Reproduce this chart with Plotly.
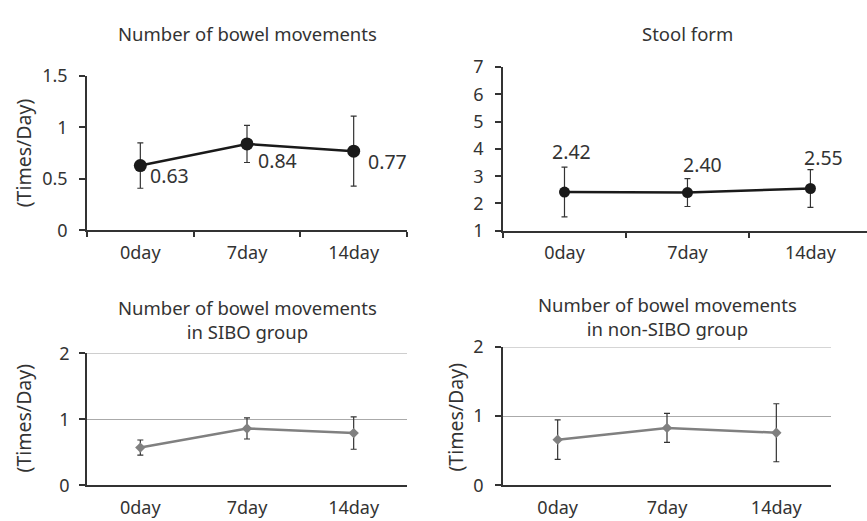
import plotly.graph_objects as go

days = ["0day", "7day", "14day"]

bm_mean = [0.63, 0.84, 0.77]
bm_err = [0.22, 0.18, 0.34]
bm_labels = ["0.63", "0.84", "0.77"]

sf_mean = [2.42, 2.40, 2.55]
sf_err = [0.91, 0.51, 0.69]
sf_labels = ["2.42", "2.40", "2.55"]

sibo_mean = [0.57, 0.86, 0.79]
sibo_err = [0.115, 0.16, 0.245]

nonsibo_mean = [0.66, 0.83, 0.76]
nonsibo_err = [0.285, 0.21, 0.42]

FONT = "Noto Sans"
TXT = "#333333"
W, H = 867, 521

def fx(px):
    return px / W

def fy(px):
    return 1 - px / H

fig = go.Figure()

# Panel 1
fig.add_trace(go.Scatter(
    x=days, y=bm_mean, xaxis="x", yaxis="y", mode="lines+markers",
    line=dict(color="#1a1a1a", width=2.5),
    marker=dict(color="#1a1a1a", size=13, symbol="circle"),
    error_y=dict(type="data", array=bm_err, color="#333333", thickness=1.2, width=3),
    showlegend=False, cliponaxis=False))
# Panel 2
fig.add_trace(go.Scatter(
    x=days, y=sf_mean, xaxis="x2", yaxis="y2", mode="lines+markers",
    line=dict(color="#1a1a1a", width=2.5),
    marker=dict(color="#1a1a1a", size=11, symbol="circle"),
    error_y=dict(type="data", array=sf_err, color="#333333", thickness=1.2, width=3),
    showlegend=False, cliponaxis=False))
# Panel 3
fig.add_trace(go.Scatter(
    x=days, y=sibo_mean, xaxis="x3", yaxis="y3", mode="lines+markers",
    line=dict(color="#808080", width=2.5),
    marker=dict(color="#808080", size=8, symbol="diamond"),
    error_y=dict(type="data", array=sibo_err, color="#333333", thickness=1.2, width=3),
    showlegend=False, cliponaxis=False))
# Panel 4
fig.add_trace(go.Scatter(
    x=days, y=nonsibo_mean, xaxis="x4", yaxis="y4", mode="lines+markers",
    line=dict(color="#808080", width=2.5),
    marker=dict(color="#808080", size=8, symbol="diamond"),
    error_y=dict(type="data", array=nonsibo_err, color="#333333", thickness=1.2, width=3),
    showlegend=False, cliponaxis=False))

axis_common = dict(showline=True, linecolor="#333333", linewidth=1.5,
                   tickfont=dict(family=FONT, size=18, color=TXT),
                   zeroline=False, fixedrange=True)

def xaxis(domain, anchor, rng, ticks, standoff):
    return dict(axis_common, domain=domain, anchor=anchor, type="category",
                categoryorder="array", categoryarray=days, range=rng,
                tickson="boundaries", ticks=ticks, ticklen=5, tickcolor="#333333",
                tickwidth=1.5, showgrid=False, ticklabelstandoff=standoff)

def yaxis(domain, anchor, rng, tickvals, grid, standoff):
    return dict(axis_common, domain=domain, anchor=anchor, range=rng,
                tickvals=tickvals, ticks="outside", ticklen=6, tickcolor="#333333",
                tickwidth=1.5, showgrid=grid, gridcolor="#aaaaaa", gridwidth=1,
                ticklabelstandoff=standoff)

fig.update_layout(
    width=W, height=H, margin=dict(l=0, r=0, t=0, b=0),
    paper_bgcolor="white", plot_bgcolor="white",
    font=dict(family=FONT, size=18, color=TXT),
    xaxis=xaxis([fx(87), fx(407)], "y", [-0.5, 2.5], "outside", 5),
    yaxis=yaxis([fy(228), fy(66)], "x", [0, 1.5], [0, 0.5, 1, 1.5], False, 8),
    xaxis2=xaxis([fx(503), 1.0], "y2", [-0.5, 2.46], "outside", 5),
    yaxis2=yaxis([fy(228.3), fy(56.7)], "x2", [1, 7], [1, 2, 3, 4, 5, 6, 7], False, 8),
    xaxis3=xaxis([fx(87), fx(407)], "y3", [-0.5, 2.5], "", 5),
    yaxis3=yaxis([fy(495), fy(356.7)], "x3", [0, 2], [0, 1, 2], True, 6),
    xaxis4=xaxis([fx(503), fx(831)], "y4", [-0.5, 2.5], "", 5),
    yaxis4=yaxis([fy(495), fy(350.3)], "x4", [0, 2], [0, 1, 2], True, 8),
)

# gridlines at the top of the bottom panels
shapes = []
for xr, yr in [("x3", "y3"), ("x4", "y4")]:
    shapes.append(dict(type="line", xref=xr + " domain", yref=yr, x0=0, x1=1, y0=2, y1=2,
                       line=dict(color="#aaaaaa", width=1), layer="below"))
fig.update_layout(shapes=shapes)

ann = []
# subplot titles
titles = [
    ("Number of bowel movements", 247, 21),
    ("Stool form", 687, 21),
    ("Number of bowel movements<br>in SIBO group", 247, 321),
    ("Number of bowel movements<br>in non-SIBO group", 667, 318),
]
for t, x, y in titles:
    ann.append(dict(text=t, x=fx(x), y=fy(y), xref="paper", yref="paper",
                    xanchor="center", yanchor="middle", showarrow=False,
                    font=dict(family=FONT, size=18.5, color=TXT)))
# y-axis titles
for x, y in [(23, 147), (23, 425), (456, 423)]:
    ann.append(dict(text="(Times/Day)", x=fx(x), y=fy(y), xref="paper", yref="paper",
                    textangle=-90, xanchor="center", yanchor="middle", showarrow=False,
                    font=dict(family=FONT, size=19.5, color=TXT)))
# value labels panel 1
shifts1 = [(8, -10), (9, -17), (12, -10)]
for d, v, lab, (dx, dy) in zip(days, bm_mean, bm_labels, shifts1):
    ann.append(dict(text=lab, x=d, y=v, xref="x", yref="y", xanchor="left",
                    yanchor="middle", xshift=dx, yshift=dy, showarrow=False,
                    font=dict(family=FONT, size=19.5, color=TXT)))
# value labels panel 2
shifts2 = [(7, 41), (15, 28), (13, 31)]
for d, v, lab, (dx, dy) in zip(days, sf_mean, sf_labels, shifts2):
    ann.append(dict(text=lab, x=d, y=v, xref="x2", yref="y2", xanchor="center",
                    yanchor="middle", xshift=dx, yshift=dy, showarrow=False,
                    font=dict(family=FONT, size=19.5, color=TXT)))

fig.update_layout(annotations=ann)
fig.write_html("out.html")
